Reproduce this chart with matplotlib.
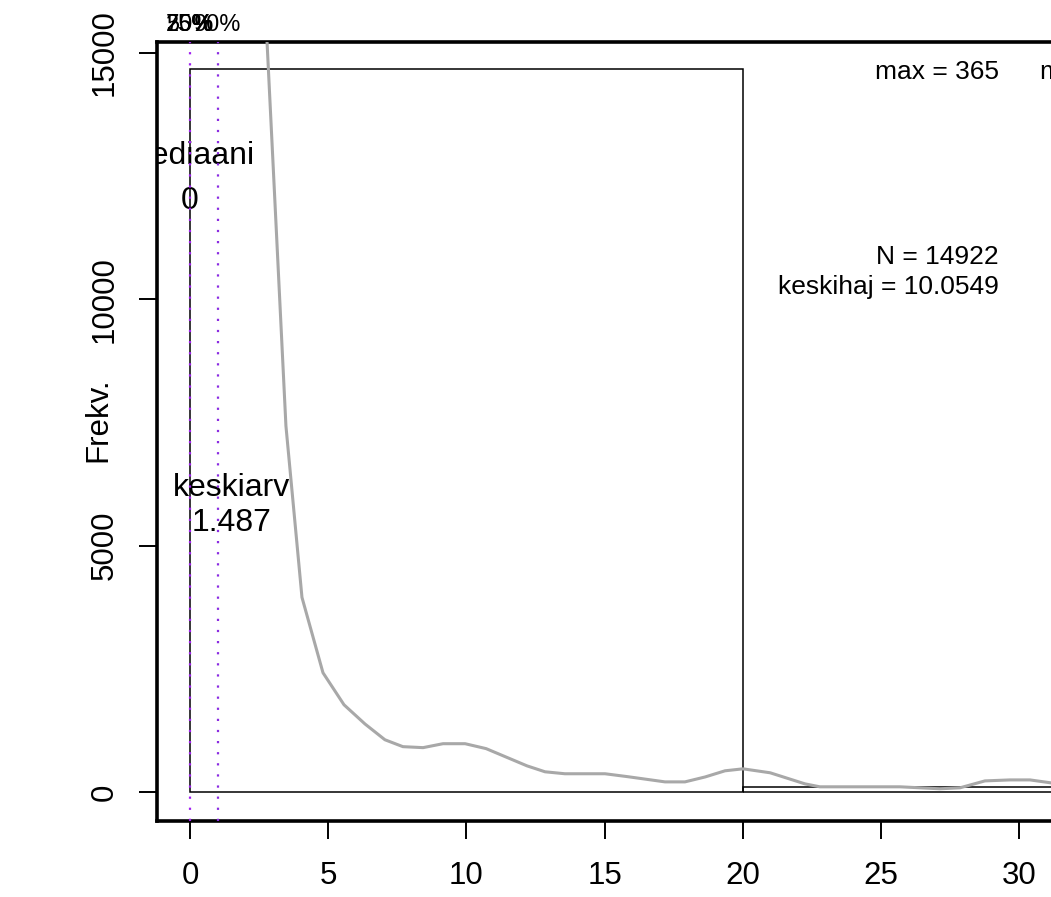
import matplotlib
matplotlib.use("Agg")
import matplotlib.pyplot as plt

plt.rcParams['font.family'] = ['Liberation Sans', 'DejaVu Sans']

# histogram (bin edges + counts)
bin_edges = [0, 20, 40]
counts = [14680, 110]

# smoothed frequency curve
curve_x = [2.70, 2.78, 3.00, 3.47, 4.05, 4.81, 5.57, 6.33, 7.05, 7.70, 8.43, 9.15,
           9.95, 10.71, 12.19, 12.84, 13.56, 15.01, 15.84, 17.18, 17.90, 18.63,
           19.35, 20.00, 20.98, 22.24, 22.78, 24.23, 25.68, 27.12, 27.85, 28.75,
           29.66, 30.38, 31.14, 32.0]
curve_y = [16200, 15300, 12800, 7430, 3950, 2420, 1770, 1380, 1060, 920, 900, 980,
           980, 880, 530, 410, 370, 370, 310, 205, 205, 305,
           430, 470, 390, 165, 105, 105, 105, 65, 85, 225,
           245, 245, 185, 150]

quant_labels = ["25%", "50%", "75%", "90%"]
quant_values = [0, 0, 0, 1]
quant_lines = [0, 1]
quant_colors = ["#A020F0", "#8A2BE2"]

median = 0
mean = 1.487
stats_text = ["N = 14922", "keskihaj = 10.0549"]

W, H = 1051, 897
fig = plt.figure(figsize=(W / 100, H / 100), dpi=100)
ax = fig.add_axes([157 / W, (H - 821) / H, (1296 - 157) / W, (821 - 42) / H])

ax.set_xlim(-1.193, 40)
ax.set_ylim(-589, 15223)

# quantile lines
for q, c in zip(quant_lines, quant_colors):
    ax.axvline(q, color=c, lw=1.6, ls=(0, (1, 4)), zorder=4)

widths = [b - a for a, b in zip(bin_edges[:-1], bin_edges[1:])]
ax.bar(bin_edges[:-1], counts, width=widths, align="edge", facecolor="none",
       edgecolor="black", lw=1.1, zorder=2)

ax.plot(curve_x, curve_y, color="#A8A8A8", lw=2.2, zorder=3)

# quantile labels above the box
for lab, v in zip(quant_labels, quant_values):
    ax.text(v, 15568, lab, ha="center", va="center", fontsize=17, clip_on=False)

ax.text(median, 12900, "mediaani", ha="center", va="center", fontsize=23, clip_on=True)
ax.text(median, 12000, "0", ha="center", va="center", fontsize=23, clip_on=True)
ax.text(mean, 6180, "keskiarv", ha="center", va="center", fontsize=23, clip_on=True)
ax.text(mean, 5450, "1.487", ha="center", va="center", fontsize=23, clip_on=True)

ax.text(27.0, 14620, "max = 365", ha="center", va="center", fontsize=19)
ax.text(30.74, 14620, "min = 0", ha="left", va="center", fontsize=19)
ax.text(29.26, 10860, stats_text[0], ha="right", va="center", fontsize=19)
ax.text(29.26, 10250, stats_text[1], ha="right", va="center", fontsize=19)

for s in ["left", "top", "bottom"]:
    ax.spines[s].set_linewidth(2.6)
ax.spines["right"].set_visible(False)

ax.set_xticks(range(0, 31, 5))
ax.set_yticks([0, 5000, 10000, 15000])
ax.tick_params(axis="both", direction="out", length=13, width=1.4, labelsize=22.5)
ax.tick_params(axis="x", pad=16)
ax.tick_params(axis="y", pad=14)
for t in ax.get_yticklabels():
    t.set_rotation(90)
    t.set_va("center")

fig.text(98 / W, 1 - 420 / H, "Frekv.", rotation=90, ha="center", va="center", fontsize=22.5)

fig.savefig("out.png", dpi=100)
